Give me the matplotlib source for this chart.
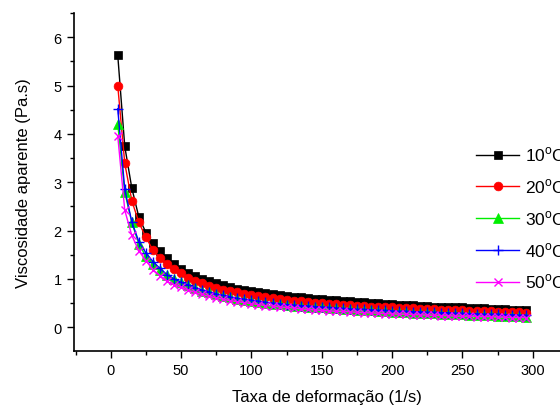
import numpy as np
import matplotlib
matplotlib.use("Agg")
import matplotlib.pyplot as plt
from matplotlib.ticker import MultipleLocator

plt.rcParams['font.family'] = ['Liberation Sans', 'DejaVu Sans']
plt.rcParams['mathtext.fontset'] = 'custom'
plt.rcParams['mathtext.rm'] = 'Liberation Sans'

shear_rate = list(range(5, 300, 5))  # 1/s

visc_10 = [5.63, 3.74, 2.88, 2.28, 1.96, 1.74, 1.57, 1.43, 1.31, 1.21,
           1.13, 1.06, 1.00, 0.95, 0.91, 0.87, 0.83, 0.80, 0.77, 0.75,
           0.72, 0.70, 0.68, 0.66, 0.65, 0.63, 0.62, 0.60, 0.59, 0.58,
           0.57, 0.56, 0.55, 0.54, 0.53, 0.52, 0.51, 0.50, 0.49, 0.48,
           0.47, 0.46, 0.46, 0.45, 0.44, 0.43, 0.43, 0.42, 0.41, 0.41,
           0.40, 0.39, 0.39, 0.38, 0.37, 0.37, 0.36, 0.35, 0.35]
visc_20 = [5.00, 3.39, 2.62, 2.17, 1.86, 1.60, 1.44, 1.31, 1.21, 1.12,
           1.03, 0.96, 0.91, 0.86, 0.82, 0.78, 0.75, 0.72, 0.69, 0.67,
           0.64, 0.62, 0.60, 0.58, 0.57, 0.55, 0.54, 0.52, 0.51, 0.50,
           0.49, 0.48, 0.47, 0.46, 0.45, 0.44, 0.43, 0.42, 0.42, 0.41,
           0.40, 0.39, 0.39, 0.38, 0.37, 0.37, 0.36, 0.36, 0.35, 0.35,
           0.34, 0.34, 0.33, 0.33, 0.32, 0.32, 0.31, 0.31, 0.30]
visc_30 = [4.21, 2.79, 2.17, 1.72, 1.47, 1.31, 1.19, 1.08, 1.00, 0.93,
           0.87, 0.81, 0.76, 0.72, 0.68, 0.65, 0.62, 0.59, 0.57, 0.55,
           0.53, 0.51, 0.49, 0.48, 0.46, 0.45, 0.44, 0.43, 0.42, 0.41,
           0.40, 0.39, 0.38, 0.37, 0.36, 0.35, 0.35, 0.34, 0.33, 0.32,
           0.32, 0.31, 0.30, 0.30, 0.29, 0.29, 0.28, 0.28, 0.27, 0.27,
           0.26, 0.26, 0.25, 0.25, 0.24, 0.24, 0.23, 0.23, 0.22]
visc_40 = [4.52, 2.85, 2.18, 1.77, 1.54, 1.36, 1.22, 1.09, 1.00, 0.93,
           0.88, 0.82, 0.77, 0.73, 0.69, 0.66, 0.63, 0.60, 0.58, 0.56,
           0.54, 0.52, 0.50, 0.49, 0.47, 0.46, 0.45, 0.44, 0.43, 0.42,
           0.41, 0.40, 0.39, 0.38, 0.37, 0.37, 0.36, 0.35, 0.35, 0.34,
           0.33, 0.33, 0.32, 0.32, 0.31, 0.31, 0.30, 0.30, 0.29, 0.29,
           0.28, 0.28, 0.27, 0.27, 0.27, 0.26, 0.26, 0.25, 0.25]
visc_50 = [3.96, 2.42, 1.90, 1.58, 1.38, 1.19, 1.07, 0.95, 0.88, 0.83,
           0.77, 0.72, 0.68, 0.64, 0.61, 0.58, 0.55, 0.53, 0.51, 0.49,
           0.47, 0.45, 0.44, 0.42, 0.41, 0.40, 0.38, 0.37, 0.36, 0.35,
           0.34, 0.33, 0.33, 0.32, 0.31, 0.30, 0.30, 0.29, 0.28, 0.28,
           0.27, 0.27, 0.26, 0.26, 0.25, 0.25, 0.24, 0.24, 0.23, 0.23,
           0.23, 0.22, 0.22, 0.22, 0.21, 0.21, 0.20, 0.20, 0.20]

labels = [r'10$^{\mathrm{o}}$C', r'20$^{\mathrm{o}}$C', r'30$^{\mathrm{o}}$C',
          r'40$^{\mathrm{o}}$C', r'50$^{\mathrm{o}}$C']
series = [visc_10, visc_20, visc_30, visc_40, visc_50]
colors = ['#000000', '#FF0000', '#00EE00', '#0000FF', '#FF00FF']
markers = ['s', 'o', '^', '+', 'x']
msizes = [5.8, 6.3, 6.5, 7.5, 6.3]

fig = plt.figure(figsize=(5.6, 4.1), dpi=100)
ax = fig.add_axes([73.5 / 560, 58 / 410, 506.5 / 560, 338 / 410])

for y, c, m, ms, lab in zip(series, colors, markers, msizes, labels):
    ax.plot(shear_rate, y, color=c, marker=m, markersize=ms, linewidth=1.0,
            markeredgewidth=1.0 if m in ['+', 'x'] else 0.5, label=lab)

px = 1.407
ax.set_xlim(-(110.7 - 73.5) / px, (580 - 110.7) / px)
ax.set_ylim(-0.49, 6.5)

ax.spines['top'].set_visible(False)
ax.spines['right'].set_visible(False)
ax.xaxis.set_major_locator(MultipleLocator(50))
ax.xaxis.set_minor_locator(MultipleLocator(25))
ax.yaxis.set_major_locator(MultipleLocator(1))
ax.yaxis.set_minor_locator(MultipleLocator(0.5))
ax.tick_params(which='major', direction='out', length=5, width=1, labelsize=10.5)
ax.tick_params(which='minor', direction='out', length=3, width=1)
for s in ['left', 'bottom']:
    ax.spines[s].set_linewidth(1.2)

ax.set_xlabel('Taxa de deformação (1/s)', fontsize=12, labelpad=9)
ax.set_ylabel('Viscosidade aparente (Pa.s)', fontsize=12, labelpad=16)

leg = fig.legend(loc='upper left', bbox_to_anchor=(476 / 560, 1 - 146 / 410),
                 bbox_transform=fig.transFigure, frameon=False, fontsize=12.5,
                 handlelength=2.5, handletextpad=0.3, labelspacing=0.75,
                 borderpad=0, borderaxespad=0)

fig.savefig('out.png', dpi=100)
